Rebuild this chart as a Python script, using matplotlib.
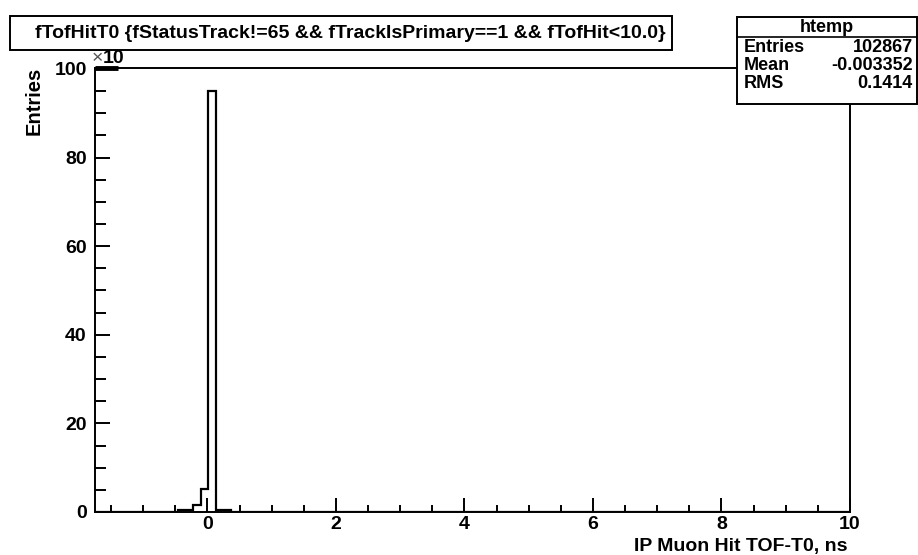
import numpy as np
import matplotlib
matplotlib.use("Agg")
import matplotlib.pyplot as plt
from matplotlib.ticker import MultipleLocator

# histogram definition (y shown in units of x10 entries)
x_min, x_max, n_bins = -1.75, 10.0, 100
bin_index = [11, 12, 13, 14, 15, 16, 17]
bin_content = [0.5, 0.5, 1.5, 5.1, 95.0, 0.5, 0.5]
clipped_bins = [0, 1, 2]  # bins above the frame, drawn along the top

title = "fTofHitT0 {fStatusTrack!=65 && fTrackIsPrimary==1 && fTofHit<10.0}"
x_title = "IP Muon Hit TOF-T0, ns"
y_title = "Entries"
stat_names = ["Entries", "Mean", "RMS"]
stat_values = ["102867", "-0.003352", "0.1414"]

plt.rcParams["font.family"] = ["Liberation Sans", "DejaVu Sans"]
plt.rcParams["font.weight"] = "bold"

fig = plt.figure(figsize=(9.18, 5.55), dpi=100)
W, H = 918, 555
ax = fig.add_axes([95 / W, 1 - 512 / H, (850 - 95) / W, (512 - 68) / H])

edges = np.linspace(x_min, x_max, n_bins + 1)
counts = np.zeros(n_bins)
counts[bin_index] = bin_content
ax.stairs(counts, edges, color="black", linewidth=1.6)

y_top = 100.2
ax.hlines(y_top, edges[min(clipped_bins)], edges[max(clipped_bins) + 1], color="black",
          linewidth=3.5, clip_on=False)

ax.set_xlim(x_min, x_max)
ax.set_ylim(0, y_top)

ax.xaxis.set_major_locator(MultipleLocator(2))
ax.xaxis.set_minor_locator(MultipleLocator(0.5))
ax.yaxis.set_major_locator(MultipleLocator(20))
ax.yaxis.set_minor_locator(MultipleLocator(5))
ax.tick_params(which="both", direction="in", top=False, right=False, width=1.4,
               labelsize=14)
ax.tick_params(axis="x", which="major", length=10, pad=3)
ax.tick_params(axis="x", which="minor", length=5)
ax.tick_params(axis="y", which="major", length=11, pad=6)
ax.tick_params(axis="y", which="minor", length=8)
for lab in ax.get_xticklabels() + ax.get_yticklabels():
    lab.set_fontweight("bold")
for s in ax.spines.values():
    s.set_linewidth(1.4)

fig.text(847 / W, 1 - 546 / H, x_title, ha="right", va="center", fontsize=14, fontweight="bold")
fig.text(34 / W, 1 - 67 / H, y_title, ha="center", va="top", rotation=90, fontsize=14.5, fontweight="bold")
fig.text(92 / W, 1 - 63 / H, "\u00d7", ha="left", va="baseline", fontsize=14, fontweight="normal",
         color="#555555")
fig.text(103 / W, 1 - 63 / H, "10", ha="left", va="baseline", fontsize=14, fontweight="bold")

# title box
fig.patches.append(plt.Rectangle((10 / W, 1 - 50 / H), (672 - 10) / W, 34 / H, transform=fig.transFigure,
                                 facecolor="white", edgecolor="black", linewidth=1.4))
fig.text(350 / W, 1 - 33 / H, title, ha="center", va="center", fontsize=14, fontweight="bold")

# stats box
bx0, bx1, by0, by1 = 737, 917, 17, 104
fig.patches.append(plt.Rectangle((bx0 / W, 1 - by1 / H), (bx1 - bx0) / W, (by1 - by0) / H,
                                 transform=fig.transFigure, facecolor="white", edgecolor="black",
                                 linewidth=1.4, zorder=5))
fig.lines.append(plt.Line2D([bx0 / W, bx1 / W], [1 - 37 / H, 1 - 37 / H], transform=fig.transFigure,
                            color="black", linewidth=1.2, zorder=6))
fig.text((bx0 + bx1) / 2 / W, 1 - 27 / H, "htemp", ha="center", va="center", fontsize=13,
         fontweight="bold", zorder=7)
for i, (n, v) in enumerate(zip(stat_names, stat_values)):
    yy = 1 - (47 + i * 18.5) / H
    fig.text(744 / W, yy, n, ha="left", va="center", fontsize=13, fontweight="bold", zorder=7)
    fig.text(913 / W, yy, v, ha="right", va="center", fontsize=13, fontweight="bold", zorder=7)

fig.savefig("out.png", dpi=100)
